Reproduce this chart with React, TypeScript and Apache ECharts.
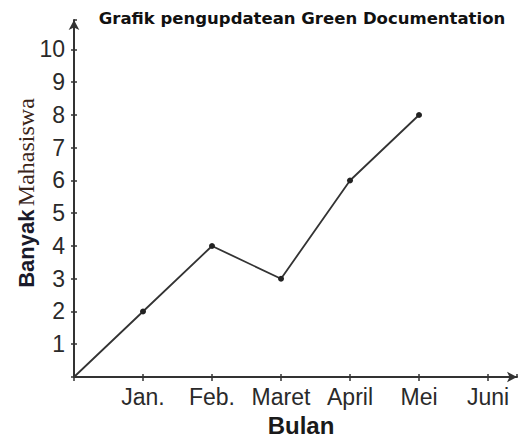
import React, { useEffect, useRef } from "react";
import * as echarts from "echarts";

const months = ["", "Jan.", "Feb.", "Maret", "April", "Mei", "Juni"];
const monthIndex = [0, 1, 2, 3, 4, 5];
const students = [0, 2, 4, 3, 6, 8];
const yTicks = [1, 2, 3, 4, 5, 6, 7, 8, 9, 10];

export default function App() {
  const ref = useRef<HTMLDivElement>(null);
  useEffect(() => {
    if (!ref.current) return;
    const chart = echarts.init(ref.current, null, { renderer: "svg" });
    const data = monthIndex.map((m, i) => [m, students[i]]);
    const labelFont = { fontFamily: "Liberation Sans, Arial, sans-serif", fontSize: 23, color: "#2a2a2a" };
    const baseX = { type: "value", min: 0, max: 6.42, interval: 1 };
    const baseY = { type: "value", min: 0, max: 10.9, interval: 1 };
    chart.setOption({
      animation: false,
      grid: { left: 74, right: 1, top: 20, bottom: 62, containLabel: false },
      xAxis: [
        {
          ...baseX,
          axisLine: { show: true, symbol: ["none", "arrow"], symbolSize: [8, 10], lineStyle: { color: "#333", width: 2 } },
          axisTick: { show: true, length: 4, inside: false, lineStyle: { color: "#333", width: 1.5 } },
          splitLine: { show: false },
          axisLabel: { ...labelFont, margin: 8, showMaxLabel: false, formatter: (v: number) => months[Math.round(v)] ?? "" },
        },
        {
          ...baseX,
          position: "bottom",
          axisLine: { show: false },
          axisTick: { show: true, length: 3, inside: true, lineStyle: { color: "#333", width: 1.5 } },
          splitLine: { show: false },
          axisLabel: { show: false },
        },
      ],
      yAxis: [
        {
          ...baseY,
          axisLine: { show: true, symbol: ["none", "arrow"], symbolSize: [8, 10], lineStyle: { color: "#333", width: 2 } },
          axisTick: { show: true, length: 3, inside: false, lineStyle: { color: "#333", width: 1.5 } },
          splitLine: { show: false },
          axisLabel: {
            ...labelFont,
            margin: 9,
            showMaxLabel: false,
            formatter: (v: number) => (yTicks.includes(v) ? String(v) : ""),
          },
        },
        {
          ...baseY,
          position: "left",
          axisLine: { show: false },
          axisTick: { show: true, length: 3, inside: true, lineStyle: { color: "#333", width: 1.5 } },
          splitLine: { show: false },
          axisLabel: { show: false },
        },
      ],
      series: [
        {
          type: "line",
          data,
          symbol: (v: number[]) => (v[0] === 0 ? "none" : "circle"),
          symbolSize: 6,
          itemStyle: { color: "#222" },
          lineStyle: { color: "#333", width: 1.8 },
        },
      ],
      graphic: [
        {
          type: "text",
          x: 302,
          y: 18,
          style: {
            text: "Grafik pengupdatean Green Documentation",
            font: "bold 16.5px 'DejaVu Sans', Verdana, sans-serif",
            fill: "#111",
            align: "center",
            verticalAlign: "middle",
          },
        },
        {
          type: "text",
          x: 301,
          y: 425,
          style: {
            text: "Bulan",
            font: "bold 24px 'Liberation Sans', Arial, sans-serif",
            fill: "#1a1a1a",
            align: "center",
            verticalAlign: "middle",
          },
        },
        {
          type: "text",
          x: 26,
          y: 193,
          rotation: Math.PI / 2,
          style: {
            text: "{a|Banyak} {b|Mahasiswa}",
            align: "center",
            verticalAlign: "middle",
            rich: {
              a: { font: "bold 22px 'Liberation Sans', Arial, sans-serif", fill: "#1a1a2a", color: "#1a1a2a" },
              b: { font: "24px 'Liberation Serif', 'Times New Roman', serif", fill: "#3a2418", color: "#3a2418" },
            },
          },
        },
      ],
    });
    return () => chart.dispose();
  }, []);
  return (
    <div
      ref={ref}
      style={{ position: "absolute", left: 0, top: 0, width: 518, height: 439, background: "#fff" }}
    />
  );
}
